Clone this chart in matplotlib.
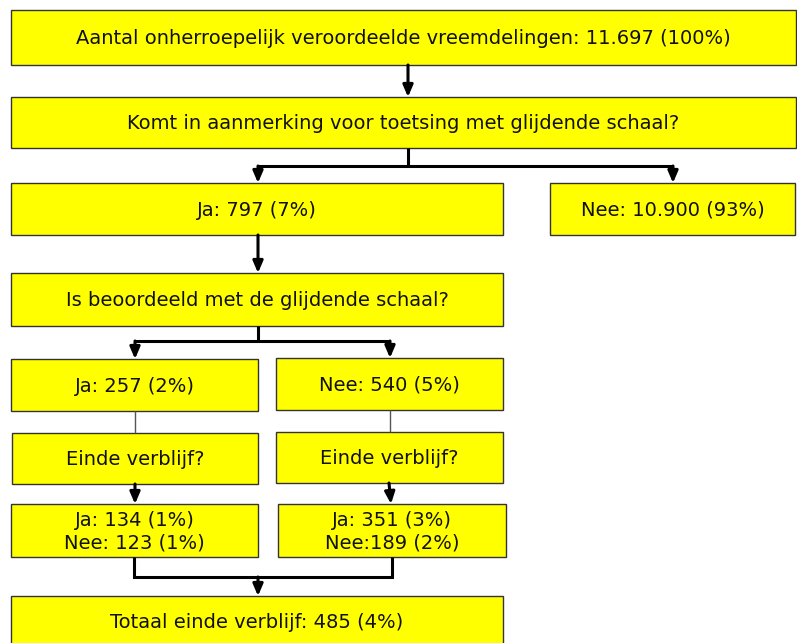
import matplotlib.pyplot as plt
from matplotlib.patches import Rectangle

# figures from the flowchart
total = 11697
screen_counts = [797, 10900]      # Ja / Nee: komt in aanmerking
screen_pct = [7, 93]
assessed_counts = [257, 540]      # Ja / Nee: beoordeeld met glijdende schaal
assessed_pct = [2, 5]
end_ja_counts = [134, 351]
end_ja_pct = [1, 3]
end_nee_counts = [123, 189]
end_nee_pct = [1, 2]
end_total = 485
end_total_pct = 4


def nl(n):
    return f"{n:,}".replace(",", ".")


BOX_FACE = "#ffff00"
BOX_EDGE = "#333333"
FONT = 14.0


def box(ax, x0, y0, x1, y1, text):
    ax.add_patch(Rectangle((x0, y0), x1 - x0, y1 - y0, facecolor=BOX_FACE,
                           edgecolor=BOX_EDGE, linewidth=1.0))
    ax.text((x0 + x1) / 2, (y0 + y1) / 2 + 1, text, ha="center", va="center",
            fontsize=FONT, color="#111111", linespacing=1.25)


def line(ax, xs, ys, lw=2.2, color="black"):
    ax.plot(xs, ys, color=color, linewidth=lw, solid_capstyle="butt",
            solid_joinstyle="miter")


def arrow(ax, x, y0, y1, x_end=None):
    if x_end is None:
        x_end = x
    ax.annotate("", xy=(x_end, y1), xytext=(x, y0),
                arrowprops=dict(arrowstyle="-|>,head_length=0.7,head_width=0.3",
                                color="black", lw=2.2, shrinkA=0, shrinkB=0))


fig = plt.figure(figsize=(7.97, 6.43), dpi=100)
ax = fig.add_axes([0, 0, 1, 1])
ax.set_xlim(0, 797)
ax.set_ylim(643, 0)
ax.axis("off")

box(ax, 11, 10, 796, 65,
    f"Aantal onherroepelijk veroordeelde vreemdelingen: {nl(total)} (100%)")
arrow(ax, 408, 65, 97)
box(ax, 11, 97, 796, 148, "Komt in aanmerking voor toetsing met glijdende schaal?")

line(ax, [408, 408], [148, 166])
line(ax, [258, 673], [166, 166])
arrow(ax, 258, 166, 183)
arrow(ax, 673, 166, 183)

box(ax, 11, 183, 503, 235, f"Ja: {nl(screen_counts[0])} ({screen_pct[0]}%)")
box(ax, 550, 183, 795, 235, f"Nee: {nl(screen_counts[1])} ({screen_pct[1]}%)")

arrow(ax, 258, 235, 273)
box(ax, 11, 273, 503, 326, "Is beoordeeld met de glijdende schaal?")

line(ax, [258, 258], [326, 341])
line(ax, [135, 390], [341, 341])
arrow(ax, 135, 341, 359)
arrow(ax, 390, 341, 358)

box(ax, 11, 359, 258, 411, f"Ja: {assessed_counts[0]} ({assessed_pct[0]}%)")
box(ax, 276, 358, 503, 410, f"Nee: {assessed_counts[1]} ({assessed_pct[1]}%)")

line(ax, [135, 135], [411, 433], lw=1.0, color="#555555")
line(ax, [390, 390], [410, 432], lw=1.0, color="#555555")

box(ax, 12, 433, 258, 484, "Einde verblijf?")
box(ax, 276, 432, 503, 483, "Einde verblijf?")

arrow(ax, 135, 484, 504)
arrow(ax, 389, 483, 504, x_end=391)

box(ax, 11, 504, 258, 557,
    f"Ja: {end_ja_counts[0]} ({end_ja_pct[0]}%)\nNee: {end_nee_counts[0]} ({end_nee_pct[0]}%)")
box(ax, 278, 504, 506, 557,
    f"Ja: {end_ja_counts[1]} ({end_ja_pct[1]}%)\nNee:{end_nee_counts[1]} ({end_nee_pct[1]}%)")

line(ax, [134, 134, 392, 392], [557, 577, 577, 557])
arrow(ax, 258, 577, 596)

box(ax, 11, 596, 503, 648, f"Totaal einde verblijf: {end_total} ({end_total_pct}%)")

fig.savefig("out.png", dpi=100, facecolor="white")
